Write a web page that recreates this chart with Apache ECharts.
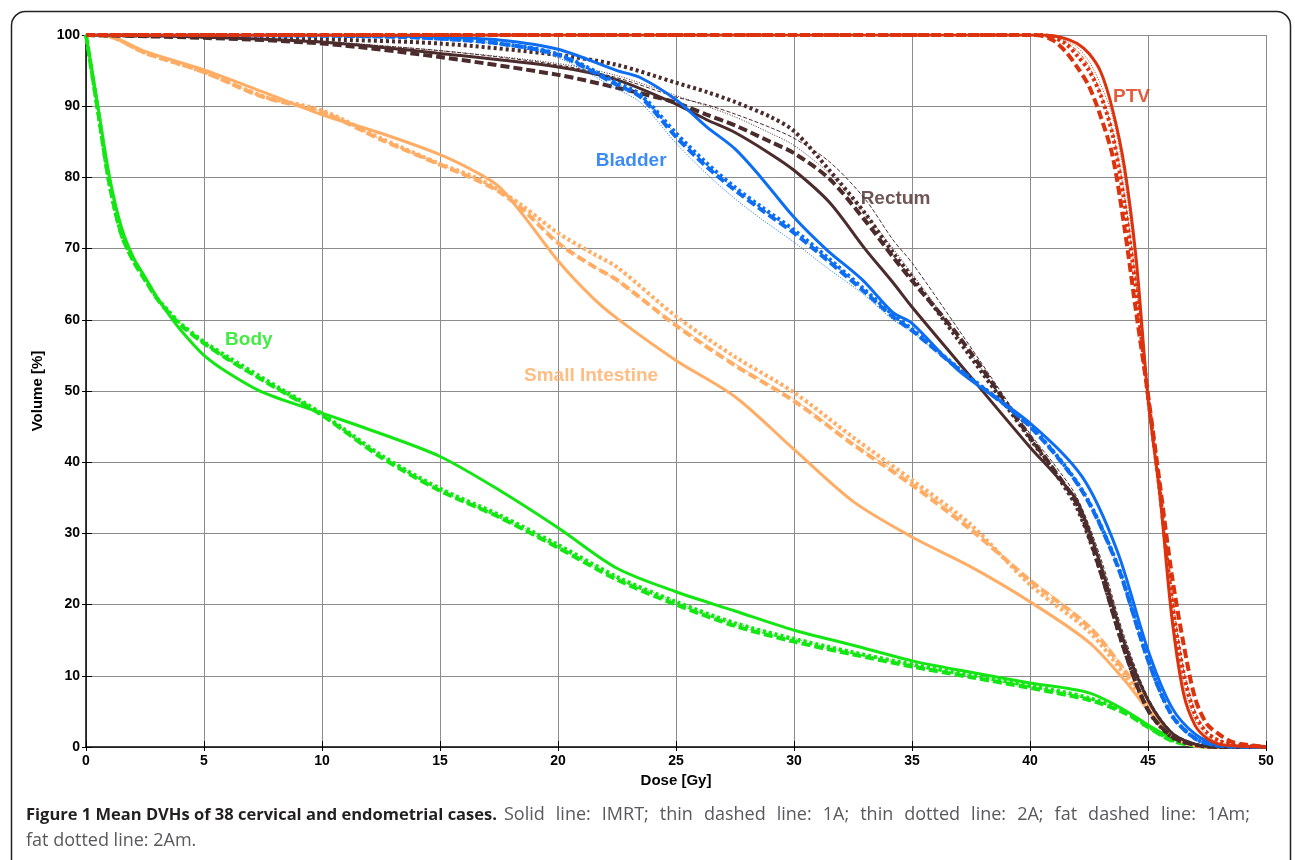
<!DOCTYPE html>
<html>
<head>
<meta charset="utf-8">
<script src="https://cdn.jsdelivr.net/npm/echarts@6/dist/echarts.min.js"></script>
<style>
html,body{margin:0;padding:0;background:#fff;}
#chart{width:1295px;height:860px;}
</style>
</head>
<body>
<div id="chart"></div>
<script>
// ---------- data ----------
const xTicks = [0,5,10,15,20,25,30,35,40,45,50];
const yTicks = [0,10,20,30,40,50,60,70,80,90,100];

// Body
const doseBody   = [0,0.5,1,1.5,2,2.5,3,3.5,4,5,6,7.5,10,12.5,15,17.5,20,22.5,25,27.5,30,32.5,35,37.5,40,42.5,44,45,46,47,48,50];
const bodyIMRT   = [100,90,80,73,68.8,66,63.2,60.8,58.6,55,52.6,49.8,46.9,44.0,40.8,36.1,30.8,25.1,21.8,19.1,16.4,14.3,12.1,10.5,9.0,7.6,5.2,3.1,1.3,0.3,0.05,0];
const body1A     = [100,89.6,79.2,72.2,68.3,65.7,63.1,61.1,59.4,56.6,54.4,51.4,46.5,40.8,36,32.2,28,23.6,20.1,17.1,14.9,13.1,11.4,9.9,8.4,6.7,4.9,2.8,0.9,0.2,0,0];
const body2A     = [100,89.6,79.2,72.2,68.3,65.7,63.2,61.2,59.5,56.8,54.6,51.6,46.7,41,36.2,32.5,28.3,23.9,20.4,17.4,15.2,13.3,11.6,10.1,8.6,6.9,5.0,2.9,1.0,0.2,0,0];
const body1Am    = [100,89.5,79,72,68.3,65.6,63,61,59.3,56.7,54.5,51.5,46.6,40.7,36,32.3,28,23.5,20,17,14.8,13,11.3,9.8,8.3,6.6,4.8,2.8,0.9,0.2,0,0];
const body2Am    = [100,89.5,79,72,68.4,65.7,63.1,61.2,59.5,56.9,54.8,51.8,46.8,41.0,36.3,32.6,28.4,23.9,20.4,17.4,15.2,13.3,11.6,10.1,8.6,6.9,5.0,2.9,1.0,0.2,0,0];

// Small intestine
const doseSI     = [0,1,2.5,5,7.5,10,12.5,15,16.5,17.5,18.5,20,21.5,22.5,25,27.5,30,32.5,35,37.5,40,42.5,44,45,46,47,48,50];
const siIMRT     = [100,99.8,97.7,95.1,92,88.8,86.2,83.2,80.8,78.7,74.8,68.3,63,60.2,54.3,49.2,41.8,34.5,29.5,25.3,20.4,14.7,9.4,5.2,1.5,0.2,0,0];
const si1A       = [100,99.8,97.5,94.8,91.4,89.3,85.4,81.8,79.8,78.1,75.8,71.0,67.6,65.5,59.4,53.8,48.8,42.7,37.0,30.8,23.6,17.1,11.0,6.3,1.9,0.2,0,0];
const si2A       = [100,99.8,97.5,94.8,91.3,89.2,85.3,81.8,79.9,78.3,76.1,72.0,69.0,67.2,60.3,54.6,49.6,43.3,37.3,31.0,22.9,16.4,10.4,5.9,1.7,0.2,0,0];
const si1Am      = [100,99.8,97.5,94.8,91.3,89.2,85.3,81.8,79.7,78,75.5,70.8,67.5,65.6,59.2,53.6,48.6,42.5,36.8,30.5,23.4,16.9,10.8,6.2,1.8,0.2,0,0];
const si2Am      = [100,99.8,97.5,94.8,91.4,89.4,85.5,81.9,80,78.2,76,72.2,69.3,67.4,60.5,54.8,49.8,43.5,37.5,31.2,22.8,16.2,10.2,5.8,1.6,0.2,0,0];

// Rectum
const doseRect   = [0,5,10,15,20,22.5,25,26.3,27.5,29,30,31.5,33,34.2,35,37,40,41,42,43,44,45,46,47,48,50];
const rectIMRT   = [100,99.7,99.0,97.4,95.5,93.7,90.3,88.1,86.3,83.3,81,76.5,70,65.2,61.8,53.9,42.1,38.5,34.5,25.5,14.6,6.6,2,0.4,0,0];
const rect1A     = [100,99.7,99.0,97.8,95.8,94,91.3,90.2,88.9,87,85.5,82.2,77,71.2,68,58.5,44,39.8,35,26.5,15.5,7,2.2,0.5,0,0];
const rect2A     = [100,99.7,99.1,97.8,96,94.3,91.5,90,88.5,86.2,84.5,80.5,75,70,66.5,57.5,43.5,39.2,34.3,25.8,14.8,6.4,1.9,0.4,0,0];
const rect1Am    = [100,99.6,98.8,96.9,94.4,92.6,90.5,88.8,87.3,85,83.4,79.8,74,68.8,65.5,57.6,43.5,39,34,24.5,13.6,5.2,1.5,0.3,0,0];
const rect2Am    = [100,99.8,99.4,98.8,97.2,95.8,93.3,92,90.6,88.5,86.5,81,75,69.4,66,57,43.3,38.8,33.5,24.5,13.6,5.2,1.4,0.3,0,0];

// Bladder
const doseBlad   = [0,5,10,12.5,15,17.5,20,22.5,23.5,25,26.3,27.5,28.6,30,31.4,32.9,34.2,35,37,40,42.2,43.7,45,46,47,48,50];
const bladIMRT   = [100,100,100,99.9,99.7,99.3,98,95,94,90.9,87.1,84,80,74.4,69.8,65.6,61,59.5,52.8,45.5,38,27.5,13.6,5.6,1.8,0.3,0];
const blad1A     = [100,100,99.9,99.8,99.5,98.8,97.2,93.2,91.5,86,81.8,78.4,75.7,72.4,68.6,64.4,60.6,58.6,53,45.2,36.2,25.8,12.4,4.6,1.2,0.2,0];
const blad2A     = [100,100,99.9,99.8,99.5,98.7,96.8,92.4,90.5,84.8,80.5,77,74.2,70.9,67.3,63.7,60,58.3,52.8,45,36,25.5,12.2,4.5,1.2,0.2,0];
const blad1Am    = [100,100,99.9,99.8,99.5,98.8,97.2,93,91.3,85.7,81.5,78.2,75.5,72.2,68.4,64.2,60.4,58.5,53,45,36,25.5,12.2,4.5,1.2,0.2,0];
const blad2Am    = [100,100,99.9,99.8,99.5,98.8,97.3,93.3,91.6,86.2,82,78.6,75.9,72.6,68.8,64.5,60.7,58.7,53.1,45.1,36.1,25.6,12.3,4.5,1.2,0.2,0];

// PTV
const dosePTV    = [0,40,40.5,41,41.5,42,42.5,43,43.5,44,44.5,45,45.5,46,46.5,47,47.5,48,48.5,49,50];
const ptvIMRT    = [100,100,100,99.9,99.5,98.8,97.4,94.8,89.5,81.5,68.5,49,35.5,18.5,7.6,3,1.2,0.4,0.2,0.1,0];
const ptv1A      = [100,100,100,99.7,99,97.8,95.6,91.8,86.5,77.5,65,49.2,36.5,22,11,5,2.2,1,0.5,0.2,0];
const ptv2A      = [100,100,100,99.8,99.2,98.3,96.3,93,88.5,80,67,49,35.8,20,9,3.8,1.6,0.6,0.3,0.1,0];
const ptv1Am     = [100,100,99.9,99.2,97.7,95.5,92.8,88.5,83,73,61,49.5,37,24.4,14.6,6.8,3.2,1.8,0.8,0.4,0];
const ptv2Am     = [100,100,100,99.6,98.8,97.1,95,91.5,86,76.5,64,49.2,36,21,10.5,4.5,2,0.9,0.4,0.2,0];

// In-plot labels
const labelNames = ['PTV','Bladder','Rectum','Small Intestine','Body'];
const labelDose  = [44.3,23.1,34.3,21.4,6.9];
const labelVol   = [91.3,82.3,77.0,52.2,57.2];

// Caption
const captionBold = 'Figure 1 Mean DVHs of 38 cervical and endometrial cases.';
const captionLine1 = 'Solid line: IMRT; thin dashed line: 1A; thin dotted line: 2A; fat dashed line: 1Am;';
const captionLine2 = 'fat dotted line: 2Am.';

// ---------- styling ----------
const colors = {
  'Body': '#14e614',
  'Small Intestine': '#ffad65',
  'Rectum': '#4b2b2b',
  'Bladder': '#0d6ef2',
  'PTV': '#dc330e'
};
const variantStyle = {
  IMRT: {width: 3, type: 'solid'},
  '1A': {width: 1, type: [4, 2]},
  '2A': {width: 1, type: [1, 1.6]},
  '1Am': {width: 4, type: [9, 4]},
  '2Am': {width: 4, type: [3, 3]}
};

const organs = [
  {name: 'Body', dose: doseBody, v: {IMRT: bodyIMRT, '1A': body1A, '2A': body2A, '1Am': body1Am, '2Am': body2Am}},
  {name: 'Small Intestine', dose: doseSI, v: {IMRT: siIMRT, '1A': si1A, '2A': si2A, '1Am': si1Am, '2Am': si2Am}},
  {name: 'Rectum', dose: doseRect, v: {IMRT: rectIMRT, '1A': rect1A, '2A': rect2A, '1Am': rect1Am, '2Am': rect2Am}},
  {name: 'Bladder', dose: doseBlad, v: {IMRT: bladIMRT, '1A': blad1A, '2A': blad2A, '1Am': blad1Am, '2Am': blad2Am}},
  {name: 'PTV', dose: dosePTV, v: {IMRT: ptvIMRT, '1A': ptv1A, '2A': ptv2A, '1Am': ptv1Am, '2Am': ptv2Am}}
];
const variantOrder = ['1Am', '2Am', '1A', '2A', 'IMRT'];

const series = [];
organs.forEach(o => {
  variantOrder.forEach(vk => {
    const vals = o.v[vk];
    series.push({
      name: o.name + ' ' + vk,
      type: 'line',
      data: o.dose.map((d, i) => [d, vals[i]]),
      showSymbol: false,
      symbol: 'none',
      smooth: 0.3,
      lineStyle: {color: colors[o.name], width: variantStyle[vk].width, type: variantStyle[vk].type, cap: 'butt'},
      silent: true,
      animation: false
    });
  });
});

series.push({
  name: 'labels',
  type: 'scatter',
  symbolSize: 0,
  data: labelNames.map((n, i) => ({
    name: n, value: [labelDose[i], labelVol[i]],
    label: {color: colors[n]}
  })),
  label: {
    show: true,
    position: 'inside',
    formatter: p => p.name,
    fontFamily: 'Liberation Sans, Arial, sans-serif',
    fontWeight: 'bold',
    fontSize: 19
  },
  animation: false
});

// caption layout: bold part set naturally, normal words justified to the right margin
const CAP_FONT = 'Open Sans, Noto Sans, sans-serif';
const BOLD_SIZE = 16.5, NORM_SIZE = 18;
function fontOf(bold) { return bold ? ('bold ' + BOLD_SIZE + 'px ' + CAP_FONT) : (NORM_SIZE + 'px ' + CAP_FONT); }
function measure(txt, bold) {
  const c = measure.c || (measure.c = document.createElement('canvas').getContext('2d'));
  c.font = fontOf(bold);
  return c.measureText(txt).width;
}
const capLeft = 26, capRight = 1250;
const boldW = measure(captionBold, true);
const normStart = capLeft + boldW + 7;
const words1 = captionLine1.split(' ');
const widths1 = words1.map(w => measure(w, false));
const totalW = widths1.reduce((a, b) => a + b, 0);
const gap = (capRight - normStart - totalW) / (words1.length - 1);
const graphics = [
  {type: 'rect', left: 9, top: 9, shape: {width: 1279, height: 900, r: 14},
   style: {fill: 'none', stroke: '#222', lineWidth: 1.5}, silent: true, z: -1},
  {type: 'text', x: capLeft, y: 807, style: {text: captionBold, font: fontOf(true), fill: '#231f20'}}
];
let cx = normStart;
words1.forEach((w, i) => {
  graphics.push({type: 'text', x: cx, y: 806, style: {text: w, font: fontOf(false), fill: '#58595b'}});
  cx += widths1[i] + gap;
});
graphics.push({type: 'text', x: capLeft, y: 832, style: {
  text: captionLine2, font: fontOf(false), fill: '#58595b'
}});

const tickFont = {fontFamily: 'Liberation Sans, Arial, sans-serif', fontWeight: 'bold', fontSize: 14, color: '#000'};

const chart = echarts.init(document.getElementById('chart'), null, {renderer: 'canvas'});
chart.setOption({
  backgroundColor: '#fff',
  animation: false,
  grid: {left: 86, right: 29, top: 35, bottom: 113, containLabel: false},
  xAxis: [{
    type: 'value', min: 0, max: 50, interval: 5,
    name: 'Dose [Gy]', nameLocation: 'middle', nameGap: 24,
    nameTextStyle: {fontFamily: 'Liberation Sans, Arial, sans-serif', fontWeight: 'bold', fontSize: 15, color: '#000'},
    axisLine: {show: true, lineStyle: {color: '#000', width: 1.5}},
    axisTick: {show: true, inside: true, length: 6, lineStyle: {color: '#000'}},
    axisLabel: Object.assign({margin: 7, formatter: v => xTicks.includes(v) ? String(v) : ''}, tickFont),
    splitLine: {show: true, lineStyle: {color: '#8c8c8c', width: 1}}
  }, {
    type: 'value', min: 0, max: 50, interval: 5, position: 'top',
    axisLine: {show: false}, axisTick: {show: true, inside: true, length: 4, lineStyle: {color: '#000'}},
    axisLabel: {show: false}, splitLine: {show: false}
  }],
  yAxis: [{
    type: 'value', min: 0, max: 100, interval: 10,
    name: 'Volume [%]', nameLocation: 'middle', nameGap: 40, nameRotate: 90,
    nameTextStyle: {fontFamily: 'Liberation Sans, Arial, sans-serif', fontWeight: 'bold', fontSize: 15, color: '#000'},
    axisLine: {show: true, lineStyle: {color: '#000', width: 1.5}},
    axisTick: {show: true, inside: true, length: 6, lineStyle: {color: '#000'}},
    axisLabel: Object.assign({margin: 6, formatter: v => yTicks.includes(v) ? String(v) : ''}, tickFont),
    splitLine: {show: true, lineStyle: {color: '#8c8c8c', width: 1}}
  }, {
    type: 'value', min: 0, max: 100, interval: 10, position: 'right',
    axisLine: {show: false}, axisTick: {show: true, inside: true, length: 4, lineStyle: {color: '#000'}},
    axisLabel: {show: false}, splitLine: {show: false}
  }],
  series: series,
  graphic: graphics
});
</script>
</body>
</html>
